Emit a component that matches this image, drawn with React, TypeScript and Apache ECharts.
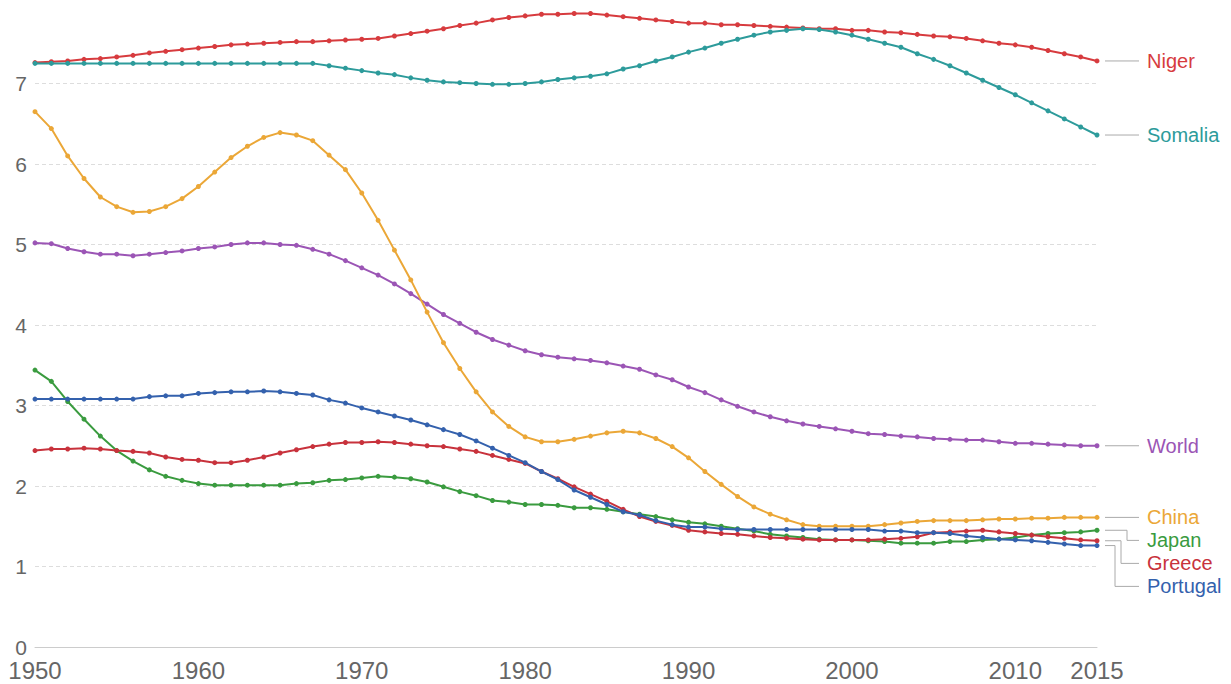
import React, { useEffect, useRef } from "react";
import * as echarts from "echarts";

const startYear = 1950;
const endYear = 2015;
const yTicks = [0, 1, 2, 3, 4, 5, 6, 7];

const seriesNames = ["Niger", "Somalia", "World", "China", "Japan", "Greece", "Portugal"];
const seriesColors = ["#d73b3e", "#2d9b9b", "#9b55b5", "#eba737", "#3a9b3f", "#c8323c", "#3461ad"];

const niger = [
  7.26, 7.27, 7.28, 7.3, 7.31, 7.33, 7.35, 7.38, 7.4, 7.42,
  7.44, 7.46, 7.48, 7.49, 7.5, 7.51, 7.52, 7.52, 7.53, 7.54,
  7.55, 7.56, 7.59, 7.62, 7.65, 7.68, 7.72, 7.75, 7.79, 7.82,
  7.84, 7.86, 7.86, 7.87, 7.87, 7.85, 7.83, 7.81, 7.79, 7.77,
  7.75, 7.75, 7.73, 7.73, 7.72, 7.71, 7.7, 7.69, 7.68, 7.68,
  7.66, 7.66, 7.64, 7.63, 7.61, 7.59, 7.58, 7.56, 7.53, 7.5,
  7.48, 7.45, 7.41, 7.37, 7.33, 7.28,
];
const somalia = [
  7.25, 7.25, 7.25, 7.25, 7.25, 7.25, 7.25, 7.25, 7.25, 7.25,
  7.25, 7.25, 7.25, 7.25, 7.25, 7.25, 7.25, 7.25, 7.22, 7.19,
  7.16, 7.13, 7.11, 7.07, 7.04, 7.02, 7.01, 7.0, 6.99, 6.99,
  7.0, 7.02, 7.05, 7.07, 7.09, 7.12, 7.18, 7.22, 7.28, 7.33,
  7.39, 7.44, 7.5, 7.55, 7.6, 7.64, 7.66, 7.68, 7.67, 7.64,
  7.6, 7.55, 7.5, 7.45, 7.37, 7.3, 7.22, 7.13, 7.04, 6.95,
  6.86, 6.76, 6.66, 6.56, 6.46, 6.36,
];
const world = [
  5.02, 5.01, 4.95, 4.91, 4.88, 4.88, 4.86, 4.88, 4.9, 4.92,
  4.95, 4.97, 5.0, 5.02, 5.02, 5.0, 4.99, 4.94, 4.88, 4.8,
  4.71, 4.62, 4.51, 4.39, 4.26, 4.13, 4.02, 3.91, 3.82, 3.75,
  3.68, 3.63, 3.6, 3.58, 3.56, 3.53, 3.49, 3.45, 3.38, 3.32,
  3.23, 3.16, 3.07, 2.99, 2.92, 2.86, 2.81, 2.77, 2.74, 2.71,
  2.68, 2.65, 2.64, 2.62, 2.61, 2.59, 2.58, 2.57, 2.57, 2.55,
  2.53, 2.53, 2.52, 2.51, 2.5, 2.5,
];
const china = [
  6.65, 6.44, 6.1, 5.82, 5.59, 5.47, 5.4, 5.41, 5.47, 5.57,
  5.72, 5.9, 6.08, 6.22, 6.33, 6.39, 6.36, 6.29, 6.11, 5.93,
  5.64, 5.3, 4.93, 4.56, 4.16, 3.78, 3.46, 3.17, 2.92, 2.74,
  2.61, 2.55, 2.55, 2.58, 2.62, 2.66, 2.68, 2.66, 2.59, 2.49,
  2.35, 2.18, 2.02, 1.87, 1.74, 1.65, 1.58, 1.52, 1.5, 1.5,
  1.5, 1.5, 1.52, 1.54, 1.56, 1.57, 1.57, 1.57, 1.58, 1.59,
  1.59, 1.6, 1.6, 1.61, 1.61, 1.61,
];
const japan = [
  3.44, 3.3, 3.05, 2.83, 2.62, 2.44, 2.31, 2.2, 2.12, 2.07,
  2.03, 2.01, 2.01, 2.01, 2.01, 2.01, 2.03, 2.04, 2.07, 2.08,
  2.1, 2.12, 2.11, 2.09, 2.05, 1.99, 1.93, 1.88, 1.82, 1.8,
  1.77, 1.77, 1.76, 1.73, 1.73, 1.71, 1.68, 1.65, 1.62, 1.58,
  1.55, 1.53, 1.5, 1.47, 1.44, 1.4, 1.38, 1.36, 1.34, 1.33,
  1.33, 1.32, 1.31, 1.29, 1.29, 1.29, 1.31, 1.31, 1.33, 1.34,
  1.36, 1.39, 1.41, 1.42, 1.43, 1.45,
];
const greece = [
  2.44, 2.46, 2.46, 2.47, 2.46, 2.44, 2.43, 2.41, 2.36, 2.33,
  2.32, 2.29, 2.29, 2.32, 2.36, 2.41, 2.45, 2.49, 2.52, 2.54,
  2.54, 2.55, 2.54, 2.52, 2.5, 2.49, 2.46, 2.43, 2.38, 2.33,
  2.28, 2.18, 2.09, 1.99, 1.9, 1.81, 1.71, 1.62, 1.56, 1.51,
  1.45, 1.43, 1.41, 1.4, 1.38, 1.36, 1.35, 1.34, 1.33, 1.33,
  1.33, 1.33, 1.34, 1.35, 1.37, 1.42, 1.43, 1.44, 1.45, 1.43,
  1.41, 1.39, 1.37, 1.35, 1.33, 1.32,
];
const portugal = [
  3.08, 3.08, 3.08, 3.08, 3.08, 3.08, 3.08, 3.11, 3.12, 3.12,
  3.15, 3.16, 3.17, 3.17, 3.18, 3.17, 3.15, 3.13, 3.07, 3.03,
  2.97, 2.92, 2.87, 2.82, 2.76, 2.7, 2.64, 2.56, 2.47, 2.38,
  2.29, 2.18, 2.08, 1.95, 1.86, 1.77, 1.68, 1.64, 1.57, 1.52,
  1.49, 1.49, 1.47, 1.46, 1.46, 1.46, 1.46, 1.46, 1.46, 1.46,
  1.46, 1.46, 1.44, 1.44, 1.42, 1.42, 1.41, 1.38, 1.36, 1.34,
  1.33, 1.32, 1.3, 1.28, 1.26, 1.26,
];

const seriesValues = [niger, somalia, world, china, japan, greece, portugal];

const FONT = "'Liberation Sans', Arial, Helvetica, sans-serif";

export default function App() {
  const ref = useRef<HTMLDivElement>(null);

  useEffect(() => {
    if (!ref.current) return;
    const chart = echarts.init(ref.current, undefined, { renderer: "svg" });

    const series = seriesNames.map((name, idx) => ({
      name,
      type: "line",
      data: seriesValues[idx].map((v, i) => [startYear + i, v]),
      symbol: "circle",
      symbolSize: 5,
      lineStyle: { width: 2, color: seriesColors[idx] },
      itemStyle: { color: seriesColors[idx] },
      z: 2 + idx,
    }));

    const option: any = {
      animation: false,
      grid: { left: 35, right: 134, top: 3, bottom: 37, containLabel: false },
      xAxis: {
        type: "value",
        min: startYear,
        max: endYear,
        interval: 10,
        axisLine: { show: true, onZero: true, lineStyle: { color: "#cccccc", width: 1 } },
        axisTick: { show: false },
        splitLine: { show: false },
        axisLabel: {
          color: "#666666",
          fontSize: 24,
          lineHeight: 20,
          fontFamily: FONT,
          margin: 13,
          formatter: (v: number) => String(v),
        },
      },
      yAxis: {
        type: "value",
        min: 0,
        max: 8,
        interval: 1,
        axisLine: { show: false },
        axisTick: { show: false },
        splitLine: {
          show: true,
          showMinLine: false,
          showMaxLine: false,
          lineStyle: { color: "#dddddd", type: [4, 3], width: 1 },
        },
        axisLabel: {
          color: "#666666",
          fontSize: 21,
          lineHeight: 16,
          fontFamily: FONT,
          margin: 8,
          showMaxLabel: false,
          formatter: (v: number) => (yTicks.indexOf(v) >= 0 ? String(v) : ""),
        },
      },
      series,
    };

    chart.setOption(option);

    // end labels with leader lines, positioned from the axes' own scale
    const ends = seriesNames.map((name, idx) => {
      const vals = seriesValues[idx];
      const p = chart.convertToPixel({ gridIndex: 0 }, [endYear, vals[vals.length - 1]]) as number[];
      return { name, idx, x: p[0], y: p[1] };
    });
    const sorted = [...ends].sort((a, b) => a.y - b.y);
    const gap = 23;
    let prevY = -Infinity;
    let displacedCount = 0;
    const elements: any[] = [];
    sorted.forEach((e) => {
      const ly = Math.max(e.y, prevY + gap);
      prevY = ly;
      const color = seriesColors[e.idx];
      let points: number[][];
      if (ly - e.y > 1) {
        const ex = e.x + 30 - 6 * displacedCount;
        displacedCount++;
        points = [
          [e.x + 8, e.y],
          [ex, e.y],
          [ex, ly],
          [e.x + 42, ly],
        ];
      } else {
        points = [
          [e.x + 8, e.y],
          [e.x + 42, e.y],
        ];
      }
      elements.push({
        type: "polyline",
        silent: true,
        shape: { points },
        style: { stroke: "#aaaaaa", lineWidth: 1, fill: null },
        z: 10,
      });
      elements.push({
        type: "text",
        silent: true,
        x: e.x + 50,
        y: ly,
        style: {
          text: e.name,
          fill: color,
          font: `20px ${FONT}`,
          textVerticalAlign: "middle",
          verticalAlign: "middle",
          textAlign: "left",
        },
        z: 10,
      });
    });
    chart.setOption({ graphic: { elements } });

    return () => chart.dispose();
  }, []);

  return (
    <div
      ref={ref}
      style={{ position: "fixed", left: 0, top: 0, width: 1231, height: 684, background: "#ffffff" }}
    />
  );
}
